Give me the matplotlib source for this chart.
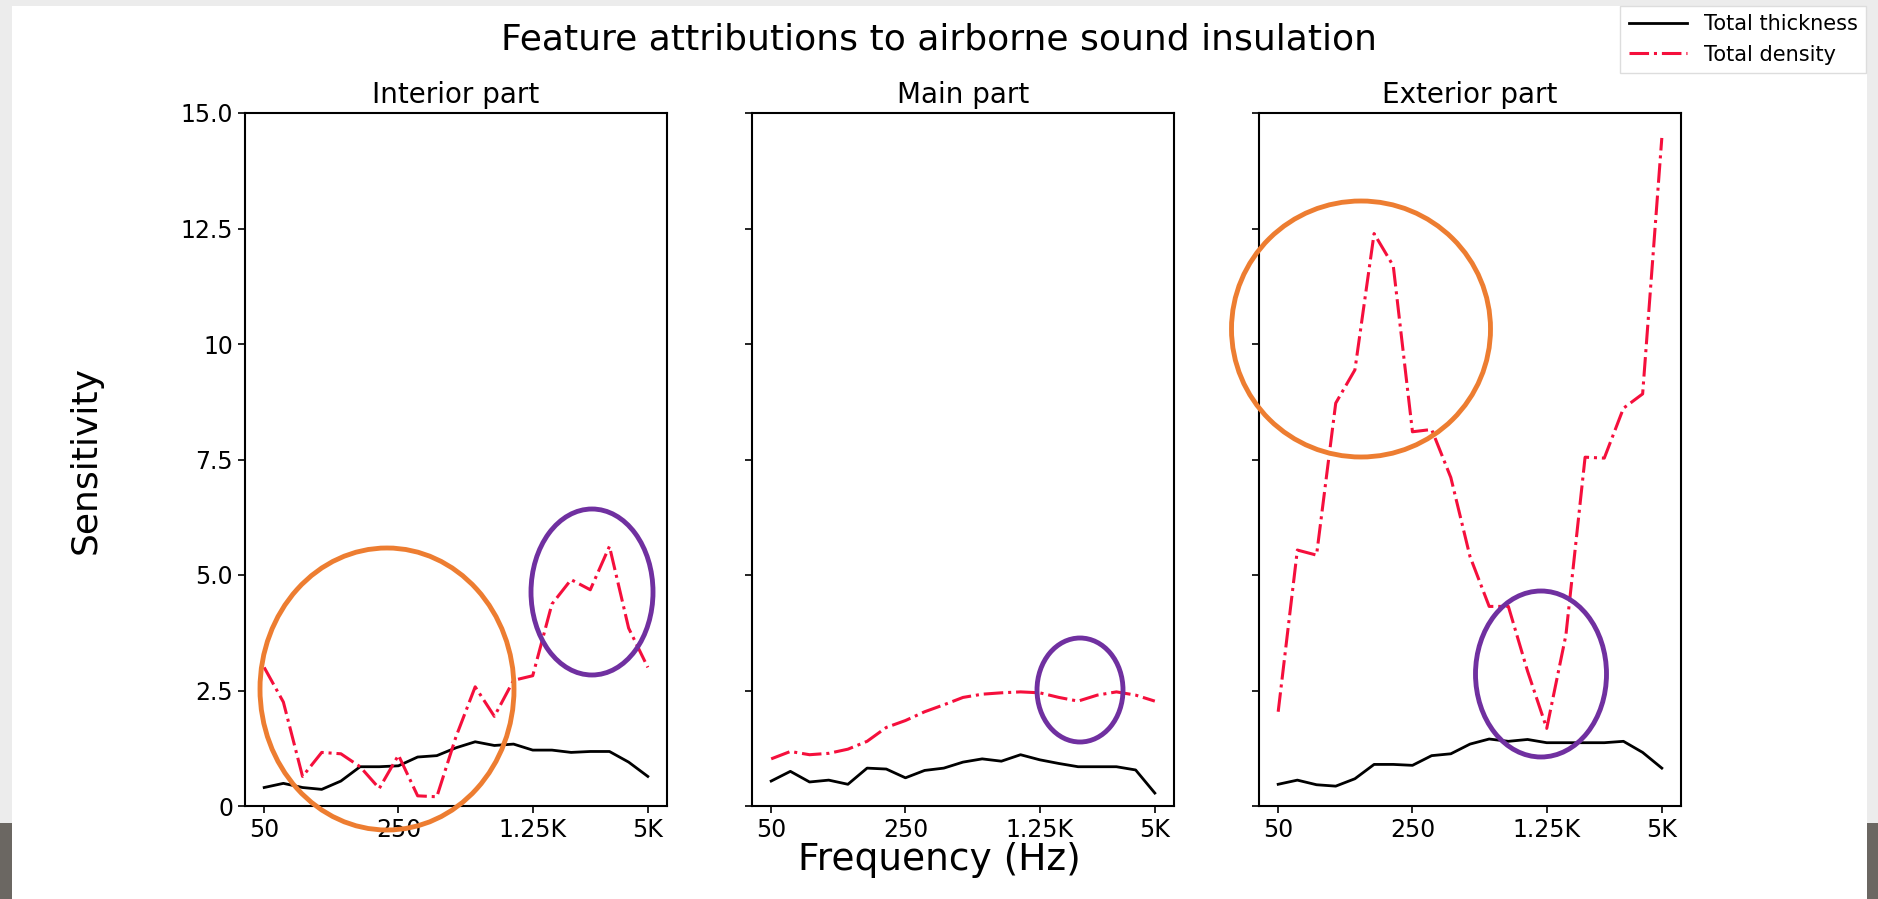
import matplotlib
matplotlib.use("Agg")
import matplotlib.pyplot as plt
from matplotlib.patches import Ellipse, Rectangle
from matplotlib.transforms import Affine2D

# 1/3-octave bands 50 Hz .. 5 kHz (21 bands)
bands = [50, 63, 80, 100, 125, 160, 200, 250, 315, 400, 500,
         630, 800, 1000, 1250, 1600, 2000, 2500, 3150, 4000, 5000]
tick_idx = [0, 7, 14, 20]
tick_labels = ["50", "250", "1.25K", "5K"]
ytick_vals = [0, 2.5, 5, 7.5, 10, 12.5, 15]
ytick_labels = ["0", "2.5", "5.0", "7.5", "10", "12.5", "15.0"]

panels = ["Interior part", "Main part", "Exterior part"]

interior_thick = [0.40, 0.49, 0.40, 0.36, 0.54, 0.85, 0.85, 0.87, 1.06, 1.09, 1.26,
                  1.39, 1.31, 1.34, 1.21, 1.21, 1.16, 1.18, 1.18, 0.95, 0.64]
interior_dens = [3.0, 2.25, 0.64, 1.16, 1.13, 0.85, 0.38, 1.10, 0.22, 0.20, 1.50,
                 2.58, 1.94, 2.72, 2.82, 4.37, 4.90, 4.68, 5.62, 3.85, 3.0]
main_thick = [0.54, 0.75, 0.52, 0.56, 0.47, 0.82, 0.80, 0.61, 0.77, 0.82, 0.95,
              1.02, 0.97, 1.11, 1.00, 0.92, 0.85, 0.85, 0.85, 0.78, 0.28]
main_dens = [1.02, 1.18, 1.11, 1.14, 1.23, 1.40, 1.70, 1.85, 2.04, 2.19, 2.35,
             2.42, 2.45, 2.47, 2.45, 2.35, 2.27, 2.40, 2.47, 2.40, 2.27]
exterior_thick = [0.47, 0.56, 0.46, 0.43, 0.59, 0.90, 0.90, 0.88, 1.09, 1.13, 1.34,
                  1.45, 1.40, 1.44, 1.37, 1.37, 1.37, 1.37, 1.40, 1.16, 0.82]
exterior_dens = [2.04, 5.54, 5.43, 8.72, 9.44, 12.39, 11.69, 8.10, 8.15, 7.11, 5.40,
                 4.32, 4.32, 2.92, 1.68, 3.70, 7.55, 7.53, 8.61, 8.92, 14.46]

thickness = [interior_thick, main_thick, exterior_thick]
density = [interior_dens, main_dens, exterior_dens]

W, H = 1878, 899
fig = plt.figure(figsize=(W / 100, H / 100), dpi=100)
fig.patch.set_facecolor("#ececec")

# pixel transform (origin top-left) for the slide around the chart
px = Affine2D().scale(1 / W, -1 / H).translate(0, 1) + fig.transFigure
fig.add_artist(Rectangle((12, 6), 1855, 900, transform=px, facecolor="white",
                         edgecolor="none", zorder=-10))
fig.add_artist(Rectangle((0, 823), 12, 80, transform=px, facecolor="#6b6762",
                         edgecolor="none", zorder=-10))
fig.add_artist(Rectangle((1867, 823), 12, 80, transform=px, facecolor="#6b6762",
                         edgecolor="none", zorder=-10))

lefts = [245, 752, 1259]
x = list(range(len(bands)))
axes = []
for i in range(3):
    ax = fig.add_axes([lefts[i] / W, 1 - 806 / H, 422 / W, 693 / H])
    ax.plot(x, thickness[i], color="black", lw=2, label="Total thickness")
    ax.plot(x, density[i], color="#f50f3c", lw=2.2, linestyle="-.", label="Total density")
    ax.set_ylim(0, 15)
    ax.set_xlim(-1, 21)
    ax.set_xticks(tick_idx)
    ax.set_xticklabels(tick_labels)
    ax.set_yticks(ytick_vals)
    if i == 0:
        ax.set_yticklabels(ytick_labels)
    else:
        ax.set_yticklabels([])
    ax.tick_params(labelsize=17, length=5, width=1.2)
    for s in ax.spines.values():
        s.set_linewidth(1.5)
    ax.set_title(panels[i], fontsize=20, pad=7)
    axes.append(ax)

fig.suptitle("Feature attributions to airborne sound insulation", fontsize=26,
             x=0.5, y=1 - 40 / H, va="center")
fig.text(86 / W, 1 - 460 / H, "Sensitivity", rotation=90, fontsize=26,
         ha="center", va="center")
fig.text(0.5, 1 - 860 / H, "Frequency (Hz)", fontsize=27, ha="center", va="center")

h, l = axes[0].get_legend_handles_labels()
fig.legend(h, l, loc="upper right", bbox_to_anchor=(1866 / W, 1 - 6 / H),
           borderaxespad=0, fontsize=15, framealpha=1, edgecolor="#dddddd",
           fancybox=False, handlelength=2.8)

# annotation ellipses (pixel centre x, y, width, height, colour)
ellipses = [
    (387, 689, 254, 282, "#ed7d31"),
    (592, 592, 122, 166, "#7030a0"),
    (1080, 690, 86, 104, "#7030a0"),
    (1361, 329, 259, 256, "#ed7d31"),
    (1541, 674, 131, 166, "#7030a0"),
]
for cx, cy, ew, eh, c in ellipses:
    fig.add_artist(Ellipse((cx, cy), ew, eh, transform=px, fill=False,
                           edgecolor=c, lw=3.5, zorder=20))

fig.savefig("out.png", dpi=100, facecolor=fig.get_facecolor())
